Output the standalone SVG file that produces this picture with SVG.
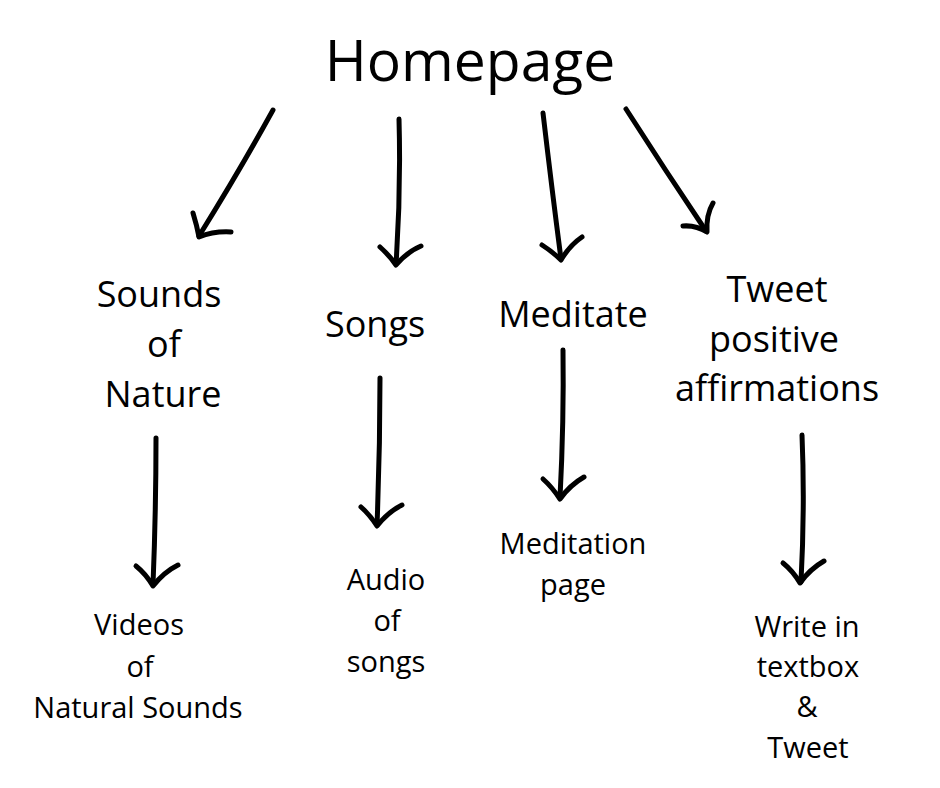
<svg xmlns="http://www.w3.org/2000/svg" width="940" height="788" viewBox="0 0 940 788">
<style>
.t{font-family:"Open Sans","Noto Sans","Liberation Sans",sans-serif;fill:#000;text-anchor:middle}
.big{font-size:57px}
.mid{font-size:36px}
.sm{font-size:29px}
.a{fill:none;stroke:#000;stroke-width:5;stroke-linecap:round;stroke-linejoin:round}
</style>
<rect width="940" height="788" fill="#fff"/>
<g id="homepage"><text class="t big" x="470" y="81">Homepage</text></g>
<g id="sounds-of-nature"><text class="t mid" x="159" y="307">Sounds</text><text class="t mid" x="164" y="357">of</text><text class="t mid" x="163" y="407">Nature</text></g>
<g id="songs"><text class="t mid" x="375" y="337">Songs</text></g>
<g id="meditate"><text class="t mid" x="573" y="327">Meditate</text></g>
<g id="tweet-positive"><text class="t mid" x="777" y="302">Tweet</text><text class="t mid" x="774" y="352">positive</text><text class="t mid" x="777" y="401">affirmations</text></g>
<g id="videos"><text class="t sm" x="139" y="635">Videos</text><text class="t sm" x="140" y="677">of</text><text class="t sm" x="138" y="718">Natural Sounds</text></g>
<g id="audio"><text class="t sm" x="386" y="590">Audio</text><text class="t sm" x="387" y="631">of</text><text class="t sm" x="386" y="672">songs</text></g>
<g id="meditation-page"><text class="t sm" x="573" y="554">Meditation</text><text class="t sm" x="573" y="595">page</text></g>
<g id="write-tweet"><text class="t sm" x="807" y="637">Write in</text><text class="t sm" x="808" y="677">textbox</text><text class="t sm" x="807" y="717">&amp;</text><text class="t sm" x="808" y="758">Tweet</text></g>
<g id="connectors">
<path class="a" d="M273,110 Q240,170 199,236"/><path class="a" d="M193,213 Q197,226 199,237 Q214,231 231,232"/>
<path class="a" d="M399,119 Q401,190 396,264"/><path class="a" d="M380,247 Q390,256 396,265 Q407,252 421,246"/>
<path class="a" d="M543,113 Q552,190 561,259"/><path class="a" d="M542,245 Q553,252 561,260 Q570,245 582,237"/>
<path class="a" d="M626,109 Q665,170 706,231"/><path class="a" d="M683,226 Q696,225 707,232 Q706,215 713,203"/>
<path class="a" d="M156,438 Q156,510 153,585"/><path class="a" d="M136,566 Q146,574 153,586 Q164,572 178,565"/>
<path class="a" d="M380,378 Q380,450 377,525"/><path class="a" d="M361,507 Q370,515 377,526 Q388,512 402,505"/>
<path class="a" d="M563,350 Q564,420 560,498"/><path class="a" d="M543,479 Q552,487 560,499 Q570,485 584,477"/>
<path class="a" d="M802,435 Q805,505 801,582"/><path class="a" d="M783,563 Q793,571 800,583 Q810,569 824,561"/>
</g>
</svg>
